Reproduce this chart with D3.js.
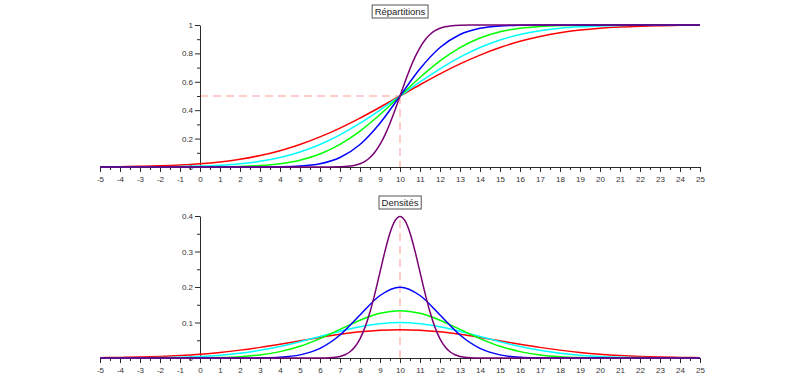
<!DOCTYPE html>
<html><head><meta charset="utf-8">
<script src="https://cdn.jsdelivr.net/npm/d3@7"></script>
<style>
html,body{margin:0;padding:0;background:#fff;}
svg{display:block;}
text{font-family:"Liberation Sans",Arial,sans-serif;}
</style></head>
<body>
<script>
// ---- data (N(10, sigma) for sigma = 1..5) ----
const sigmas = [1, 2, 3, 4, 5];
const colors = ["#7a0074", "#0000ff", "#00ff00", "#00ffff", "#ff0000"];
const xTicks = [-5,-4,-3,-2,-1,0,1,2,3,4,5,6,7,8,9,10,11,12,13,14,15,16,17,18,19,20,21,22,23,24,25];
const yTicksTop = [0, 0.2, 0.4, 0.6, 0.8, 1];
const yTicksBottom = [0, 0.1, 0.2, 0.3, 0.4];

// x positions for the narrow curve (sigma = 1)
const xFine = [-5,5,5.5,6,6.5,7,7.25,7.5,7.75,8,8.25,8.5,8.75,9,9.25,9.5,9.75,10,10.25,10.5,10.75,11,11.25,11.5,11.75,12,12.25,12.5,12.75,13,13.5,14,14.5,15,25];
// x positions for the wider curves
const xInt = [-5,-4,-3,-2,-1,0,1,2,3,4,5,6,7,8,9,10,11,12,13,14,15,16,17,18,19,20,21,22,23,24,25];

const cdf1 = [0,0.0000003,0.0000034,0.0000317,0.000233,0.00135,0.00298,0.00621,0.01222,0.02275,0.04006,0.06681,0.10565,0.15866,0.22663,0.30854,0.40129,0.5,0.59871,0.69146,0.77337,0.84134,0.89435,0.93319,0.95994,0.97725,0.98778,0.99379,0.99702,0.99865,0.99977,0.99997,0.999997,1,1];
const pdf1 = [0,0.0000015,0.000016,0.000134,0.000873,0.004432,0.009094,0.017528,0.03174,0.053991,0.086277,0.129518,0.182649,0.241971,0.301137,0.352065,0.386668,0.398942,0.386668,0.352065,0.301137,0.241971,0.182649,0.129518,0.086277,0.053991,0.03174,0.017528,0.009094,0.004432,0.000873,0.000134,0.000016,0.0000015,0];

const cdf2 = [0,0,0,0,0,0.0000003,0.0000034,0.0000317,0.000233,0.00135,0.00621,0.02275,0.06681,0.15866,0.30854,0.5,0.69146,0.84134,0.93319,0.97725,0.99379,0.99865,0.99977,0.99997,0.999997,1,1,1,1,1,1];
const pdf2 = [0,0,0,0,0,0.0000007,0.000008,0.000067,0.000436,0.002216,0.008764,0.026995,0.064759,0.120985,0.176033,0.199471,0.176033,0.120985,0.064759,0.026995,0.008764,0.002216,0.000436,0.000067,0.000008,0.0000007,0,0,0,0,0];

const cdf3 = [0.0000003,0.000002,0.000007,0.00003,0.00012,0.00043,0.00135,0.00383,0.00981,0.02275,0.04779,0.09121,0.15866,0.25249,0.36944,0.5,0.63056,0.74751,0.84134,0.90879,0.95221,0.97725,0.99019,0.99617,0.99865,0.99957,0.99988,0.99997,0.999993,0.999998,1];
const pdf3 = [0.0000005,0.0000025,0.0000111,0.0000446,0.00016,0.000514,0.001477,0.003799,0.008738,0.017997,0.033159,0.05467,0.080657,0.106483,0.125795,0.132981,0.125795,0.106483,0.080657,0.05467,0.033159,0.017997,0.008738,0.003799,0.001477,0.000514,0.00016,0.0000446,0.0000111,0.0000025,0.0000005];

const cdf4 = [0.00009,0.00023,0.00058,0.00135,0.00298,0.00621,0.01222,0.02275,0.04006,0.06681,0.10565,0.15866,0.22663,0.30854,0.40129,0.5,0.59871,0.69146,0.77337,0.84134,0.89435,0.93319,0.95994,0.97725,0.98778,0.99379,0.99702,0.99865,0.99942,0.99977,0.99991];
const pdf4 = [0.000088,0.000218,0.000507,0.001108,0.002274,0.004382,0.007935,0.013498,0.021569,0.03238,0.045662,0.060493,0.075284,0.088016,0.096667,0.099736,0.096667,0.088016,0.075284,0.060493,0.045662,0.03238,0.021569,0.013498,0.007935,0.004382,0.002274,0.001108,0.000507,0.000218,0.000088];

const cdf5 = [0.00135,0.00256,0.00466,0.0082,0.0139,0.02275,0.03593,0.0548,0.08076,0.11507,0.15866,0.21186,0.27425,0.34458,0.42074,0.5,0.57926,0.65542,0.72575,0.78814,0.84134,0.88493,0.91924,0.9452,0.96407,0.97725,0.9861,0.9918,0.99534,0.99744,0.99865];
const pdf5 = [0.000886,0.001583,0.002717,0.004479,0.007095,0.010798,0.01579,0.022184,0.029945,0.038837,0.048394,0.057938,0.066645,0.073654,0.078209,0.079788,0.078209,0.073654,0.066645,0.057938,0.048394,0.038837,0.029945,0.022184,0.01579,0.010798,0.007095,0.004479,0.002717,0.001583,0.000886];

const cdfSeries = [[xFine, cdf1], [xInt, cdf2], [xInt, cdf3], [xInt, cdf4], [xInt, cdf5]];
const pdfSeries = [[xFine, pdf1], [xInt, pdf2], [xInt, pdf3], [xInt, pdf4], [xInt, pdf5]];
const mean = 10;
const titles = ["Répartitions", "Densités"];

// ---- drawing ----
const W = 800, H = 382;
const svg = d3.select("body").append("svg").attr("width", W).attr("height", H);
const axisColor = "#2a2a2a";
const x = d3.scaleLinear().domain([-5, 25]).range([100, 700]);

function panel(cfg) {
  const y = d3.scaleLinear().domain([0, cfg.ymax]).range([cfg.y0, cfg.y1]);
  const g = svg.append("g");

  // guide dashed lines
  const dash = "8,5", dcol = "#ffbcbc";
  cfg.guides.forEach(gd => {
    g.append("line").attr("x1", x(gd[0])).attr("y1", y(gd[1])).attr("x2", x(gd[2])).attr("y2", y(gd[3]))
      .attr("stroke", dcol).attr("stroke-width", 1.5).attr("stroke-dasharray", dash);
  });

  // x axis (at y = 0)
  const xMinor = d3.range(-4.5, 25, 1);
  const xa = g.append("g").attr("transform", `translate(0,${y(0)})`);
  xa.call(d3.axisBottom(x).tickValues(xTicks).tickSize(5).tickSizeOuter(0).tickFormat(d => String(d)));
  const xm = g.append("g").attr("transform", `translate(0,${y(0)})`);
  xm.call(d3.axisBottom(x).tickValues(xMinor).tickSize(3).tickFormat(""));
  xm.select(".domain").remove();

  // y axis (at x = 0)
  const ya = g.append("g").attr("transform", `translate(${x(0)},0)`);
  ya.call(d3.axisLeft(y).tickValues(cfg.yTicks).tickSize(5).tickSizeOuter(0).tickFormat(d => String(d)));
  const ym = g.append("g").attr("transform", `translate(${x(0)},0)`);
  ym.call(d3.axisLeft(y).tickValues(cfg.yMinor).tickSize(3).tickFormat(""));
  ym.select(".domain").remove();

  [xa, xm, ya, ym].forEach(a => {
    a.selectAll("path,line").attr("stroke", axisColor).attr("stroke-width", 1);
    a.selectAll("text").attr("fill", "#333").style("font-size", "8px").style("font-family", "'Liberation Sans', Arial, sans-serif");
  });
  xa.selectAll("text").attr("y", 9);
  ya.selectAll("text").attr("x", -7);

  // curves (red underneath, purple on top)
  const line = d3.line().x(d => x(d[0])).y(d => y(d[1])).curve(d3.curveMonotoneX);
  for (let i = cfg.series.length - 1; i >= 0; i--) {
    const [xs, ys] = cfg.series[i];
    const pts = xs.map((v, j) => [v, ys[j]]);
    g.append("path").datum(pts).attr("d", line).attr("fill", "none")
      .attr("stroke", colors[i]).attr("stroke-width", 1.5);
  }

  // title box
  const rect = g.append("rect");
  const t = g.append("text").attr("x", 400).attr("y", cfg.ty).attr("text-anchor", "middle")
    .style("font-size", "9.5px").attr("fill", "#222").text(cfg.title);
  const bb = t.node().getBBox();
  rect.attr("x", bb.x - 2.5).attr("y", bb.y - 1).attr("width", bb.width + 5).attr("height", bb.height + 2)
    .attr("fill", "#fff").attr("stroke", "#555").attr("stroke-width", 1);
}

panel({
  ymax: 1, y0: 167, y1: 25, yTicks: yTicksTop, yMinor: [0.1, 0.3, 0.5, 0.7, 0.9],
  series: cdfSeries, title: titles[0], ty: 15,
  guides: [[0, 0.5, mean, 0.5], [mean, 0.5, mean, 0]]
});
panel({
  ymax: 0.4, y0: 358, y1: 216, yTicks: yTicksBottom, yMinor: [0.05, 0.15, 0.25, 0.35],
  series: pdfSeries, title: titles[1], ty: 206,
  guides: [[mean, 0, mean, pdf1[xFine.indexOf(mean)]]]
});
</script>
</body></html>
